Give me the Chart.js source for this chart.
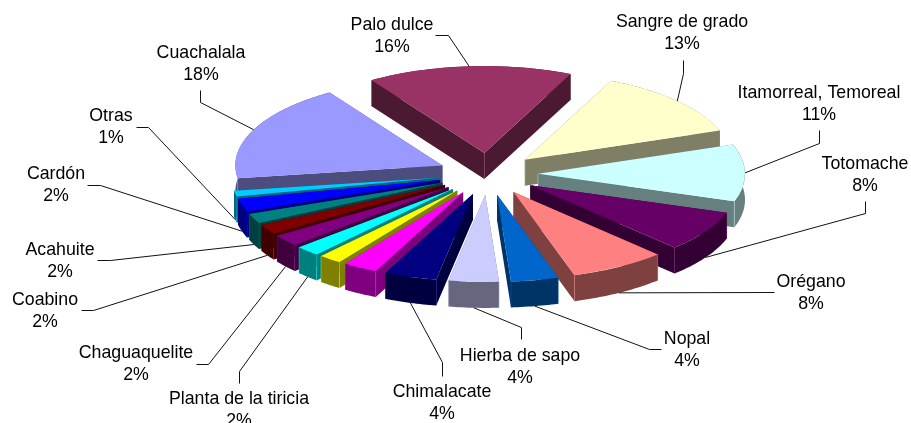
<!DOCTYPE html>
<html>
<head>
<meta charset="utf-8">
<style>html,body{margin:0;padding:0;background:#fff;overflow:hidden}canvas{display:block}</style>
<script src="https://cdn.jsdelivr.net/npm/chart.js@4"></script>
</head>
<body>
<canvas id="c" width="911" height="423"></canvas>
<script>
// ---- data, clockwise from the first slice ----
const categories = ['Palo dulce','Sangre de grado','Itamorreal, Temoreal','Totomache','Orégano','Nopal','Hierba de sapo','Chimalacate','','','Planta de la tiricia','Chaguaquelite','Coabino','Acahuite','Cardón','Otras','Cuachalala'];
const values = [16,12.7,10.6,7.6,7.5,3.7,3.9,4.1,2.7,1.8,1.9,2.2,1.8,1.8,2.4,1.1,18.2];
const colors = ['#993366','#FFFFCC','#CCFFFF','#660066','#FF8080','#0066CC','#CCCCFF','#000080','#FF00FF','#FFFF00','#00FFFF','#800080','#800000','#008080','#0000FF','#00CCFF','#9999FF'];

// ---- presentation ----
const FIRST_ANGLE = -33, RADIUS = 207, TILT = 0.42, DEPTH = 26, EXPLODE = 50;
const FONT = '17.75px "Liberation Sans", Arial, sans-serif', LINE_H = 22.5;
// label centre x, first-line centre y, then the leader's elbow points
const labelLayout = [
 [392,25,[[435,35],[448,35]]],
 [682,22,[[683,60],[683,73]]],
 [819,93,[[819,130],[819,143]]],
 [865,164,[[865,201],[865,213]]],
 [811,282,[[774,292]]],
 [687,339,[[661,349],[649,349]]],
 [520,356,[[521,339],[521,327]]],
 [442,392,[[442,376],[442,362]]],
 null,null,
 [239,399,[[239,383],[239,371]]],
 [136,353,[[196,364],[208,364]]],
 [45,300,[[81,310],[93,310]]],
 [60,250,[[97,260],[110,260]]],
 [56,174,[[87,185],[100,185]]],
 [111,116,[[136,127],[148,127]]],
 [201,53,[[200,90],[200,102]]]
];

function halve(hex){
  const n=parseInt(hex.slice(1),16);
  return 'rgb('+((n>>16&255)>>1)+','+((n>>8&255)>>1)+','+((n&255)>>1)+')';
}
function geom(el){
  const p=el.getProps(['x','y','startAngle','endAngle','outerRadius'],true);
  const mid=(p.startAngle+p.endAngle)/2;
  const ex=Math.cos(mid)*EXPLODE, ey=Math.sin(mid)*EXPLODE;
  const at=(a,r)=>[p.x+ex+Math.cos(a)*r, p.y+(ey+Math.sin(a)*r)*TILT];
  return {...p,mid,ex,ey,at};
}
const pie3d={
  id:'pie3d',
  beforeDatasetDraw(chart,args){
    const ctx=chart.ctx, arcs=args.meta.data;
    const order=arcs.map((el,i)=>({el,i,g:geom(el)})).sort((a,b)=>Math.sin(a.g.mid)-Math.sin(b.g.mid));
    order.forEach(({el,i,g})=>{
      const R=g.outerRadius, apex=g.at(0,0), side=halve(colors[i]);
      const s=g.at(g.startAngle,R), e=g.at(g.endAngle,R);
      ctx.save();
      ctx.fillStyle=side;
      // outer wall
      ctx.beginPath();
      const steps=Math.max(2,Math.ceil((g.endAngle-g.startAngle)*60));
      for(let k=0;k<=steps;k++){const p=g.at(g.startAngle+(g.endAngle-g.startAngle)*k/steps,R);ctx.lineTo(p[0],p[1]);}
      for(let k=steps;k>=0;k--){const p=g.at(g.startAngle+(g.endAngle-g.startAngle)*k/steps,R);ctx.lineTo(p[0],p[1]+DEPTH);}
      ctx.closePath();ctx.fill();
      // radial walls
      [s,e].forEach(c=>{
        ctx.beginPath();ctx.moveTo(apex[0],apex[1]);ctx.lineTo(c[0],c[1]);ctx.lineTo(c[0],c[1]+DEPTH);ctx.lineTo(apex[0],apex[1]+DEPTH);ctx.closePath();ctx.fill();
      });
      // faint highlights on the visible vertical edges
      ctx.strokeStyle=colors[i];ctx.globalAlpha=0.55;ctx.lineWidth=0.7;
      const vertical=(p)=>{ctx.beginPath();ctx.moveTo(p[0],p[1]);ctx.lineTo(p[0],p[1]+DEPTH);ctx.stroke();};
      if(Math.sin(g.mid)<0.15) vertical(apex);
      if(Math.sin(g.startAngle)>0.05) vertical(s);
      if(Math.sin(g.endAngle)>0.05 && Math.cos(g.endAngle)>-0.95) vertical(e);
      ctx.globalAlpha=1;
      // top face: the library's own arc, flattened and pulled out of the centre
      ctx.translate(g.x,g.y);
      ctx.scale(1,TILT);
      ctx.translate(g.ex,g.ey);
      ctx.translate(-g.x,-g.y);
      el.draw(ctx);
      ctx.restore();
    });
    return false;
  },
  afterDraw(chart){
    const ctx=chart.ctx, arcs=chart.getDatasetMeta(0).data, total=values.reduce((a,b)=>a+b,0);
    ctx.save();
    ctx.font=FONT;ctx.textAlign='center';ctx.textBaseline='middle';
    arcs.forEach((el,i)=>{
      const layout=labelLayout[i];
      if(!layout||!categories[i])return;
      const g=geom(el), tip=g.at(g.mid,g.outerRadius);
      if(Math.sin(g.mid)>0.12) tip[1]+=DEPTH;
      else if(Math.sin(g.mid)>0.0) tip[1]+=DEPTH*Math.sin(g.mid)/0.12;
      ctx.strokeStyle='#111';ctx.lineWidth=1;
      ctx.beginPath();
      layout[2].forEach((p,k)=>k?ctx.lineTo(p[0]+.5,p[1]+.5):ctx.moveTo(p[0]+.5,p[1]+.5));
      ctx.lineTo(tip[0],tip[1]);ctx.stroke();
      ctx.fillStyle='#000';
      ctx.fillText(categories[i],layout[0],layout[1]);
      ctx.fillText(Math.round(values[i]/total*100)+'%',layout[0],layout[1]+LINE_H);
    });
    ctx.restore();
  }
};
new Chart(document.getElementById('c'),{
  type:'pie',
  data:{labels:categories,datasets:[{data:values,backgroundColor:colors,borderWidth:0}]},
  options:{
    responsive:false,animation:false,rotation:FIRST_ANGLE,radius:RADIUS,
    layout:{padding:{left:65,bottom:75}},
    plugins:{legend:{display:false},tooltip:{enabled:false}},
    events:[]
  },
  plugins:[pie3d]
});
</script>
</body>
</html>
